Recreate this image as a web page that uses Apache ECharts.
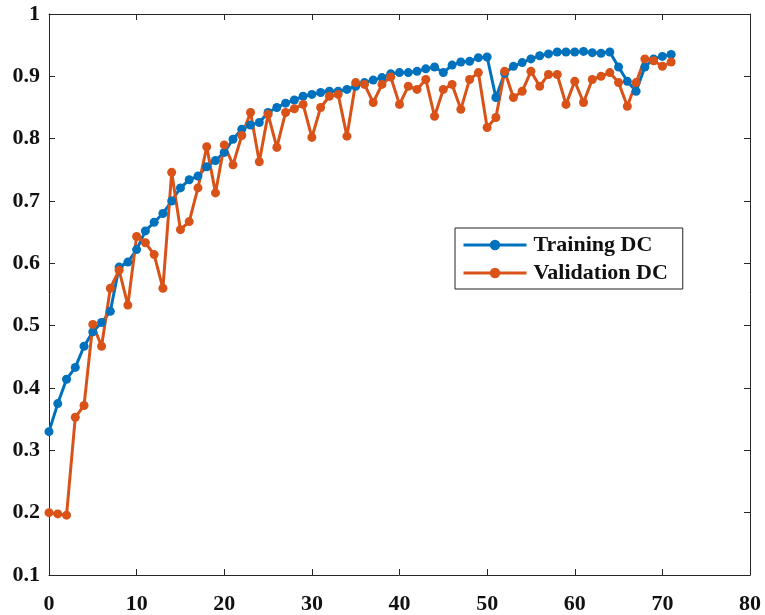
<!DOCTYPE html>
<html>
<head>
<meta charset="utf-8">
<title>Training and Validation DC</title>
<script src="https://cdn.jsdelivr.net/npm/echarts@6/dist/echarts.min.js"></script>
<style>
  html, body { margin: 0; padding: 0; background: #ffffff; }
  #chart { width: 765px; height: 615px; }
</style>
</head>
<body>
<div id="chart"></div>
<script>
// Epoch index for each recorded value
const epochs = [
  0, 1, 2, 3, 4, 5, 6, 7, 8, 9,
  10, 11, 12, 13, 14, 15, 16, 17, 18, 19,
  20, 21, 22, 23, 24, 25, 26, 27, 28, 29,
  30, 31, 32, 33, 34, 35, 36, 37, 38, 39,
  40, 41, 42, 43, 44, 45, 46, 47, 48, 49,
  50, 51, 52, 53, 54, 55, 56, 57, 58, 59,
  60, 61, 62, 63, 64, 65, 66, 67, 68, 69,
  70, 71
];

// Dice coefficient on the training set
const trainingDC = [
  0.330, 0.375, 0.414, 0.433, 0.467, 0.490, 0.505, 0.523, 0.594, 0.602,
  0.622, 0.652, 0.666, 0.680, 0.700, 0.721, 0.734, 0.740, 0.755, 0.765,
  0.778, 0.799, 0.815, 0.822, 0.826, 0.842, 0.850, 0.857, 0.862, 0.868,
  0.871, 0.874, 0.876, 0.876, 0.879, 0.884, 0.890, 0.894, 0.898, 0.904,
  0.906, 0.906, 0.908, 0.912, 0.915, 0.906, 0.918, 0.923, 0.924, 0.930,
  0.931, 0.866, 0.905, 0.916, 0.922, 0.928, 0.933, 0.936, 0.939, 0.939,
  0.939, 0.940, 0.938, 0.937, 0.939, 0.915, 0.892, 0.876, 0.915, 0.928,
  0.932, 0.935
];

// Dice coefficient on the validation set
const validationDC = [
  0.200, 0.198, 0.196, 0.353, 0.372, 0.502, 0.467, 0.560, 0.589, 0.533,
  0.643, 0.633, 0.614, 0.560, 0.746, 0.654, 0.667, 0.721, 0.787, 0.713,
  0.790, 0.758, 0.805, 0.842, 0.763, 0.839, 0.786, 0.842, 0.848, 0.855,
  0.802, 0.850, 0.868, 0.871, 0.804, 0.890, 0.887, 0.858, 0.887, 0.899,
  0.855, 0.884, 0.879, 0.895, 0.836, 0.879, 0.887, 0.847, 0.895, 0.906,
  0.818, 0.834, 0.908, 0.866, 0.876, 0.908, 0.884, 0.903, 0.903, 0.855,
  0.892, 0.858, 0.895, 0.900, 0.906, 0.890, 0.852, 0.890, 0.928, 0.925,
  0.916, 0.923
];

const seriesNames = ['Training DC', 'Validation DC'];
const seriesColors = ['#0072BD', '#D95319'];

const axisColor = '#262626';
const serifFamily = '"Liberation Serif", "DejaVu Serif", serif';
const labelFont = {
  color: '#111111',
  fontFamily: serifFamily,
  fontWeight: 'bold',
  fontSize: 22
};

const chart = echarts.init(document.getElementById('chart'), null, { renderer: 'canvas' });

function pairs(values) {
  return epochs.map((e, i) => [e, values[i]]);
}

function lineSeries(name, values, color) {
  return {
    name: name,
    type: 'line',
    data: pairs(values),
    symbol: 'circle',
    symbolSize: 9,
    showAllSymbol: true,
    lineStyle: { color: color, width: 3 },
    itemStyle: { color: color },
    emphasis: { disabled: true },
    animation: false
  };
}

chart.setOption({
  backgroundColor: '#ffffff',
  animation: false,
  grid: { left: 49, right: 15, top: 14, bottom: 40, containLabel: false },
  legend: {
    left: 455,
    top: 228,
    orient: 'vertical',
    data: seriesNames,
    itemWidth: 63,
    itemHeight: 13,
    itemGap: 6,
    padding: [6, 15, 5, 7],
    borderColor: '#222222',
    borderWidth: 1,
    backgroundColor: '#ffffff',
    lineStyle: { width: 3 },
    textStyle: {
      color: '#111111',
      fontFamily: serifFamily,
      fontWeight: 'bold',
      fontSize: 22,
      padding: [0, 0, 0, 2]
    }
  },
  xAxis: [
    {
      type: 'value',
      min: 0,
      max: 80,
      interval: 10,
      position: 'bottom',
      axisLine: { show: true, lineStyle: { color: axisColor, width: 1 } },
      axisTick: { show: true, inside: true, length: 6, lineStyle: { color: axisColor } },
      axisLabel: Object.assign({ margin: 18 }, labelFont),
      splitLine: { show: false }
    },
    {
      type: 'value',
      min: 0,
      max: 80,
      interval: 10,
      position: 'top',
      axisLine: { show: true, onZero: false, lineStyle: { color: axisColor, width: 1 } },
      axisTick: { show: true, inside: true, length: 6, lineStyle: { color: axisColor } },
      axisLabel: { show: false },
      splitLine: { show: false }
    }
  ],
  yAxis: [
    {
      type: 'value',
      min: 0.1,
      max: 1,
      interval: 0.1,
      position: 'left',
      axisLine: { show: true, onZero: false, lineStyle: { color: axisColor, width: 1 } },
      axisTick: { show: true, inside: true, length: 6, lineStyle: { color: axisColor } },
      axisLabel: Object.assign({
        margin: 9,
        formatter: v => String(+v.toFixed(1))
      }, labelFont),
      splitLine: { show: false }
    },
    {
      type: 'value',
      min: 0.1,
      max: 1,
      interval: 0.1,
      position: 'right',
      axisLine: { show: true, onZero: false, lineStyle: { color: axisColor, width: 1 } },
      axisTick: { show: true, inside: true, length: 6, lineStyle: { color: axisColor } },
      axisLabel: { show: false },
      splitLine: { show: false }
    }
  ],
  series: [
    lineSeries(seriesNames[0], trainingDC, seriesColors[0]),
    lineSeries(seriesNames[1], validationDC, seriesColors[1])
  ]
});
</script>
</body>
</html>
